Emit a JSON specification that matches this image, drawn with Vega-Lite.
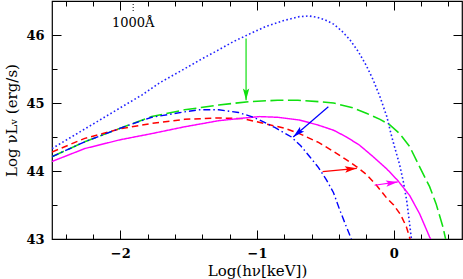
{
  "$schema": "https://vega.github.io/schema/vega-lite/v6.json",
  "width": 410,
  "height": 238,
  "autosize": {"type": "none"},
  "padding": {"left": 52, "top": 1, "right": 1, "bottom": 40},
  "background": "white",
  "config": {
    "view": {"stroke": "#000", "strokeWidth": 1.2},
    "axis": {
      "domain": false,
      "grid": false,
      "tickColor": "#000",
      "tickWidth": 1,
      "labelFont": "DejaVu Serif",
      "labelFontSize": 13,
      "labelFontWeight": "bold",
      "labelColor": "#000",
      "titleFont": "DejaVu Serif",
      "titleFontSize": 15,
      "titleFontWeight": "normal",
      "titleColor": "#000"
    }
  },
  "datasets": {
    "curves": [
      {"series": "dotted", "x": -2.5, "y": 44.33}, {"series": "dotted", "x": -2.25, "y": 44.63}, {"series": "dotted", "x": -2.0, "y": 44.93}, {"series": "dotted", "x": -1.84, "y": 45.12}, {"series": "dotted", "x": -1.71, "y": 45.3}, {"series": "dotted", "x": -1.55, "y": 45.48}, {"series": "dotted", "x": -1.42, "y": 45.63}, {"series": "dotted", "x": -1.3, "y": 45.76}, {"series": "dotted", "x": -1.175, "y": 45.9}, {"series": "dotted", "x": -1.05, "y": 46.02}, {"series": "dotted", "x": -0.93, "y": 46.13}, {"series": "dotted", "x": -0.81, "y": 46.21}, {"series": "dotted", "x": -0.69, "y": 46.27}, {"series": "dotted", "x": -0.62, "y": 46.28}, {"series": "dotted", "x": -0.56, "y": 46.26}, {"series": "dotted", "x": -0.5, "y": 46.22}, {"series": "dotted", "x": -0.44, "y": 46.16}, {"series": "dotted", "x": -0.38, "y": 46.06}, {"series": "dotted", "x": -0.32, "y": 45.93}, {"series": "dotted", "x": -0.26, "y": 45.76}, {"series": "dotted", "x": -0.2, "y": 45.55}, {"series": "dotted", "x": -0.15, "y": 45.34}, {"series": "dotted", "x": -0.1, "y": 45.09}, {"series": "dotted", "x": -0.05, "y": 44.8}, {"series": "dotted", "x": -0.02, "y": 44.55}, {"series": "dotted", "x": 0.0, "y": 44.4}, {"series": "dotted", "x": 0.044, "y": 44.09}, {"series": "dotted", "x": 0.07, "y": 43.85}, {"series": "dotted", "x": 0.095, "y": 43.57}, {"series": "dotted", "x": 0.112, "y": 43.3}, {"series": "dotted", "x": 0.13, "y": 43.0},

      {"series": "longdash", "x": -2.5, "y": 44.21}, {"series": "longdash", "x": -2.26, "y": 44.43}, {"series": "longdash", "x": -2.0, "y": 44.63}, {"series": "longdash", "x": -1.77, "y": 44.8}, {"series": "longdash", "x": -1.53, "y": 44.9}, {"series": "longdash", "x": -1.28, "y": 44.97}, {"series": "longdash", "x": -1.06, "y": 45.02}, {"series": "longdash", "x": -0.85, "y": 45.04}, {"series": "longdash", "x": -0.7, "y": 45.04}, {"series": "longdash", "x": -0.55, "y": 45.02}, {"series": "longdash", "x": -0.44, "y": 45.0}, {"series": "longdash", "x": -0.3, "y": 44.93}, {"series": "longdash", "x": -0.2, "y": 44.85}, {"series": "longdash", "x": -0.1, "y": 44.76}, {"series": "longdash", "x": -0.03, "y": 44.68}, {"series": "longdash", "x": 0.044, "y": 44.55}, {"series": "longdash", "x": 0.117, "y": 44.36}, {"series": "longdash", "x": 0.19, "y": 44.06}, {"series": "longdash", "x": 0.263, "y": 43.77}, {"series": "longdash", "x": 0.31, "y": 43.52}, {"series": "longdash", "x": 0.36, "y": 43.18}, {"series": "longdash", "x": 0.38, "y": 43.0},

      {"series": "shortdash", "x": -2.5, "y": 44.28}, {"series": "shortdash", "x": -2.26, "y": 44.48}, {"series": "shortdash", "x": -2.0, "y": 44.62}, {"series": "shortdash", "x": -1.77, "y": 44.7}, {"series": "shortdash", "x": -1.53, "y": 44.76}, {"series": "shortdash", "x": -1.28, "y": 44.78}, {"series": "shortdash", "x": -1.1, "y": 44.77}, {"series": "shortdash", "x": -0.93, "y": 44.69}, {"series": "shortdash", "x": -0.8, "y": 44.63}, {"series": "shortdash", "x": -0.69, "y": 44.55}, {"series": "shortdash", "x": -0.55, "y": 44.42}, {"series": "shortdash", "x": -0.45, "y": 44.3}, {"series": "shortdash", "x": -0.35, "y": 44.17}, {"series": "shortdash", "x": -0.27, "y": 44.06}, {"series": "shortdash", "x": -0.2, "y": 43.95}, {"series": "shortdash", "x": -0.13, "y": 43.8}, {"series": "shortdash", "x": -0.05, "y": 43.6}, {"series": "shortdash", "x": 0.0, "y": 43.5}, {"series": "shortdash", "x": 0.05, "y": 43.36}, {"series": "shortdash", "x": 0.093, "y": 43.18}, {"series": "shortdash", "x": 0.12, "y": 43.0},

      {"series": "solid", "x": -2.5, "y": 44.14}, {"series": "solid", "x": -2.26, "y": 44.33}, {"series": "solid", "x": -2.0, "y": 44.46}, {"series": "solid", "x": -1.77, "y": 44.55}, {"series": "solid", "x": -1.53, "y": 44.65}, {"series": "solid", "x": -1.28, "y": 44.74}, {"series": "solid", "x": -1.09, "y": 44.78}, {"series": "solid", "x": -0.98, "y": 44.8}, {"series": "solid", "x": -0.85, "y": 44.79}, {"series": "solid", "x": -0.69, "y": 44.75}, {"series": "solid", "x": -0.56, "y": 44.68}, {"series": "solid", "x": -0.44, "y": 44.6}, {"series": "solid", "x": -0.345, "y": 44.5}, {"series": "solid", "x": -0.25, "y": 44.38}, {"series": "solid", "x": -0.15, "y": 44.21}, {"series": "solid", "x": -0.05, "y": 44.03}, {"series": "solid", "x": 0.03, "y": 43.86}, {"series": "solid", "x": 0.117, "y": 43.64}, {"series": "solid", "x": 0.19, "y": 43.37}, {"series": "solid", "x": 0.263, "y": 43.03}, {"series": "solid", "x": 0.27, "y": 43.0},

      {"series": "dashdot", "x": -2.5, "y": 44.21}, {"series": "dashdot", "x": -2.26, "y": 44.43}, {"series": "dashdot", "x": -2.0, "y": 44.63}, {"series": "dashdot", "x": -1.77, "y": 44.79}, {"series": "dashdot", "x": -1.53, "y": 44.87}, {"series": "dashdot", "x": -1.42, "y": 44.9}, {"series": "dashdot", "x": -1.28, "y": 44.9}, {"series": "dashdot", "x": -1.135, "y": 44.86}, {"series": "dashdot", "x": -1.04, "y": 44.8}, {"series": "dashdot", "x": -0.98, "y": 44.75}, {"series": "dashdot", "x": -0.87, "y": 44.64}, {"series": "dashdot", "x": -0.748, "y": 44.5}, {"series": "dashdot", "x": -0.68, "y": 44.37}, {"series": "dashdot", "x": -0.614, "y": 44.21}, {"series": "dashdot", "x": -0.55, "y": 44.05}, {"series": "dashdot", "x": -0.492, "y": 43.87}, {"series": "dashdot", "x": -0.44, "y": 43.68}, {"series": "dashdot", "x": -0.395, "y": 43.43}, {"series": "dashdot", "x": -0.35, "y": 43.2}, {"series": "dashdot", "x": -0.31, "y": 43.0}
    ],
    "arrows": [
      {"series": "longdash", "x": -1.08, "y": 45.95, "x2": -1.08, "y2": 45.04},
      {"series": "dashdot", "x": -0.478, "y": 44.945, "x2": -0.735, "y2": 44.5},
      {"series": "shortdash", "x": -0.52, "y": 43.99, "x2": -0.27, "y2": 44.04},
      {"series": "solid", "x": -0.14, "y": 43.79, "x2": 0.03, "y2": 43.84}
    ],
    "marker": [
      {"x": -1.906, "y": 46.5, "y2": 46.33, "label": "1000Å", "ty": 46.17}
    ]
  },
  "layer": [
    {
      "data": {"name": "curves"},
      "mark": {"type": "line", "clip": true},
      "encoding": {
        "x": {"field": "x", "type": "quantitative",
              "scale": {"domain": [-2.5, 0.5], "nice": false, "zero": false},
              "axis": {"orient": "bottom", "values": [-2, -1, 0], "tickSize": -9, "labelPadding": 17, "title": "Log(hν[keV])", "titlePadding": 3}},
        "y": {"field": "y", "type": "quantitative",
              "scale": {"domain": [43, 46.5], "nice": false, "zero": false},
              "axis": {"orient": "left", "values": [43, 44, 45, 46], "tickSize": -9, "labelPadding": 17, "title": "Log νLᵥ (erg/s)", "titlePadding": 6}},
        "color": {"field": "series", "type": "nominal",
                  "scale": {"domain": ["dotted", "longdash", "shortdash", "solid", "dashdot"], "range": ["#2020ff", "#10e010", "#ff0000", "#ff00ff", "#0000ff"]},
                  "legend": null},
        "strokeDash": {"field": "series", "type": "nominal",
                  "scale": {"domain": ["dotted", "longdash", "shortdash", "solid", "dashdot"], "range": [[1.6, 2.4], [13, 4.5], [6.5, 4], [1, 0], [7, 3, 1.5, 3]]},
                  "legend": null},
        "strokeWidth": {"field": "series", "type": "nominal",
                  "scale": {"domain": ["dotted", "longdash", "shortdash", "solid", "dashdot"], "range": [1.6, 1.4, 1.4, 1.3, 1.4]},
                  "legend": null},
        "order": {"field": "x", "type": "quantitative"}
      }
    },
    {
      "data": {"name": "arrows"},
      "mark": {"type": "rule", "strokeWidth": 1.2},
      "encoding": {
        "x": {"field": "x", "type": "quantitative",
              "axis": {"orient": "bottom", "values": [-2.4, -2.2, -1.8, -1.6, -1.4, -1.2, -0.8, -0.6, -0.4, -0.2, 0.2, 0.4], "tickSize": -5, "labels": false, "title": null}},
        "y": {"field": "y", "type": "quantitative",
              "axis": {"orient": "left", "values": [43.5, 44.5, 45.5], "tickSize": -5, "labels": false, "title": null}},
        "x2": {"field": "x2"},
        "y2": {"field": "y2"},
        "color": {"field": "series", "type": "nominal", "legend": null}
      }
    },
    {
      "data": {"name": "arrows"},
      "transform": [{"filter": "datum.series === 'longdash'"}],
      "mark": {"type": "point", "shape": "M0,0L0.27,1L0,0.8L-0.27,1Z", "filled": true, "opacity": 1, "size": 560, "angle": 180},
      "encoding": {
        "x": {"field": "x2", "type": "quantitative",
              "axis": {"orient": "top", "values": [-2, -1, 0], "tickSize": -9, "labels": false, "title": null}},
        "y": {"field": "y2", "type": "quantitative",
              "axis": {"orient": "right", "values": [43, 44, 45, 46], "tickSize": -9, "labels": false, "title": null}},
        "color": {"field": "series", "type": "nominal", "legend": null}
      }
    },
    {
      "data": {"name": "arrows"},
      "transform": [{"filter": "datum.series === 'dashdot'"}],
      "mark": {"type": "point", "shape": "M0,0L0.27,1L0,0.8L-0.27,1Z", "filled": true, "opacity": 1, "size": 560, "angle": 228.75},
      "encoding": {
        "x": {"field": "x2", "type": "quantitative",
              "axis": {"orient": "top", "values": [-2.4, -2.2, -1.8, -1.6, -1.4, -1.2, -0.8, -0.6, -0.4, -0.2, 0.2, 0.4], "tickSize": -5, "labels": false, "title": null}},
        "y": {"field": "y2", "type": "quantitative",
              "axis": {"orient": "right", "values": [43.5, 44.5, 45.5], "tickSize": -5, "labels": false, "title": null}},
        "color": {"field": "series", "type": "nominal", "legend": null}
      }
    },
    {
      "data": {"name": "arrows"},
      "transform": [{"filter": "datum.series === 'shortdash'"}],
      "mark": {"type": "point", "shape": "M0,0L0.27,1L0,0.8L-0.27,1Z", "filled": true, "opacity": 1, "size": 560, "angle": 84.3},
      "encoding": {
        "x": {"field": "x2", "type": "quantitative", "axis": null},
        "y": {"field": "y2", "type": "quantitative", "axis": null},
        "color": {"field": "series", "type": "nominal", "legend": null}
      }
    },
    {
      "data": {"name": "arrows"},
      "transform": [{"filter": "datum.series === 'solid'"}],
      "mark": {"type": "point", "shape": "M0,0L0.27,1L0,0.8L-0.27,1Z", "filled": true, "opacity": 1, "size": 560, "angle": 81.7},
      "encoding": {
        "x": {"field": "x2", "type": "quantitative", "axis": null},
        "y": {"field": "y2", "type": "quantitative", "axis": null},
        "color": {"field": "series", "type": "nominal", "legend": null}
      }
    },
    {
      "data": {"name": "marker"},
      "mark": {"type": "rule", "color": "#000", "strokeWidth": 1, "strokeDash": [1, 2]},
      "encoding": {
        "x": {"field": "x", "type": "quantitative", "axis": null},
        "y": {"field": "y", "type": "quantitative", "axis": null},
        "y2": {"field": "y2"}
      }
    },
    {
      "data": {"name": "marker"},
      "mark": {"type": "text", "font": "DejaVu Serif", "fontSize": 13, "color": "#000", "baseline": "middle", "align": "center"},
      "encoding": {
        "x": {"field": "x", "type": "quantitative", "axis": null},
        "y": {"field": "ty", "type": "quantitative", "axis": null},
        "text": {"field": "label"}
      }
    }
  ],
  "resolve": {"axis": {"x": "independent", "y": "independent"}}
}
